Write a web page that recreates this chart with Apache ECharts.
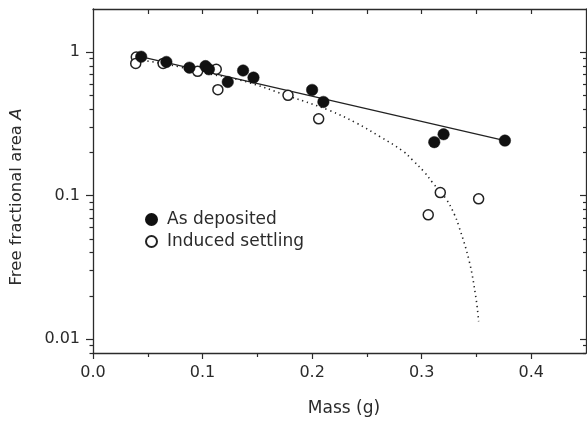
<!DOCTYPE html>
<html>
<head>
<meta charset="utf-8">
<script src="https://cdn.jsdelivr.net/npm/echarts@6/dist/echarts.min.js"></script>
<style>
html,body{margin:0;padding:0;background:#fff;}
#chart{width:587px;height:421px;}
</style>
</head>
<body>
<div id="chart"></div>
<script>
// ---- data ----
const asDeposited = [
  [0.044, 0.93], [0.067, 0.855], [0.088, 0.78], [0.1027, 0.80], [0.1058, 0.76],
  [0.123, 0.62], [0.137, 0.745], [0.1465, 0.665], [0.200, 0.546], [0.2103, 0.45],
  [0.3115, 0.236], [0.320, 0.268], [0.376, 0.242]
];
const inducedSettling = [
  [0.0395, 0.925], [0.039, 0.835], [0.064, 0.835], [0.0955, 0.735], [0.1125, 0.76],
  [0.114, 0.548], [0.178, 0.50], [0.206, 0.343], [0.317, 0.105], [0.306, 0.0735],
  [0.352, 0.095]
];
const fitDeposited = [[0.0365, 0.958], [0.376, 0.242]];
const fitSettling = [
  [0.036, 0.90], [0.053, 0.86], [0.079, 0.79], [0.10, 0.72], [0.134, 0.64],
  [0.18, 0.49], [0.216, 0.392], [0.24, 0.322], [0.2615, 0.259], [0.2827, 0.205],
  [0.2917, 0.177], [0.3024, 0.146], [0.310, 0.123], [0.3222, 0.095], [0.3297, 0.0745],
  [0.334, 0.061], [0.3434, 0.035], [0.3495, 0.0195], [0.352, 0.0133]
];
const xRange = [0, 0.45];
const yRange = [0.008, 2];
const xMajorTicks = [0, 0.1, 0.2, 0.3, 0.4];
const xMinorTicks = [0.05, 0.15, 0.25, 0.35];
const xTopTicks = [0.05, 0.1, 0.15, 0.2, 0.25, 0.3, 0.35, 0.4];
const yMajorTicks = [0.01, 0.1, 1];
const yMinorTicks = [0.008, 0.009, 0.02, 0.03, 0.04, 0.05, 0.06, 0.07, 0.08, 0.09,
                     0.2, 0.3, 0.4, 0.5, 0.6, 0.7, 0.8, 0.9];
const seriesNames = ['As deposited', 'Induced settling'];
const xTitle = 'Mass (g)';

const FONT = 'DejaVu Sans';
const INK = '#2b2b2b';

const chart = echarts.init(document.getElementById('chart'), null, {renderer: 'canvas'});

const axisLine = {show: true, onZero: false, lineStyle: {color: INK, width: 1.3}};
const noLine = {show: false, onZero: false};
const gridRect = {left: 93, right: 1, top: 9, bottom: 68, containLabel: false};

function xAx(grid, pos, ticks, len, inside, labels, line) {
  return {
    gridIndex: grid, type: 'value', position: pos, min: xRange[0], max: xRange[1], interval: 0.05,
    axisLine: line ? axisLine : noLine,
    axisTick: ticks ? {show: true, inside: inside, length: len, customValues: ticks,
                       lineStyle: {color: INK, width: 1.2}}
                    : {show: false},
    axisLabel: labels
      ? {show: true, margin: 12, fontFamily: FONT, fontSize: 16, color: INK,
         customValues: ticks, formatter: v => (+v).toFixed(1)}
      : {show: false},
    splitLine: {show: false}
  };
}
function yAx(grid, pos, ticks, len, inside, labels, line) {
  return {
    gridIndex: grid, type: 'log', logBase: 10, position: pos, min: yRange[0], max: yRange[1],
    axisLine: line ? axisLine : noLine,
    axisTick: {show: true, inside: inside, length: len, customValues: ticks,
               lineStyle: {color: INK, width: 1.2}},
    axisLabel: labels
      ? {show: true, margin: 13, fontFamily: FONT, fontSize: 16, color: INK,
         customValues: ticks, formatter: v => String(+(+v).toPrecision(6))}
      : {show: false},
    splitLine: {show: false}, minorTick: {show: false}
  };
}

const option = {
  backgroundColor: '#fff',
  animation: false,
  grid: [Object.assign({}, gridRect), Object.assign({}, gridRect)],
  legend: {
    orient: 'vertical', left: 145, top: 211, padding: 0,
    itemWidth: 11, itemHeight: 11, itemGap: 5,
    data: seriesNames,
    textStyle: {fontFamily: FONT, fontSize: 17, color: INK, lineHeight: 17, padding: [0, 0, 0, 5]}
  },
  xAxis: [
    xAx(0, 'bottom', xMajorTicks, 6, false, true, true),
    xAx(0, 'top', xTopTicks, 5, true, false, true),
    xAx(1, 'bottom', xMinorTicks, 4, false, false, false),
    xAx(1, 'top', null, 0, true, false, false)
  ],
  yAxis: [
    yAx(0, 'left', yMajorTicks, 7, false, true, true),
    yAx(0, 'right', yMajorTicks, 6, true, false, true),
    yAx(1, 'left', yMinorTicks, 3.5, false, false, false),
    yAx(1, 'right', yMinorTicks, 3, true, false, false)
  ],
  graphic: [
    {
      type: 'text', x: 17, y: 197, rotation: Math.PI / 2,
      style: {
        text: 'Free fractional area {i|A}',
        fontFamily: FONT, fontSize: 16.5, fill: INK,
        align: 'center', verticalAlign: 'middle',
        rich: {i: {fontFamily: FONT, fontSize: 16.5, fontStyle: 'italic', fill: INK}}
      }
    },
    {
      type: 'text', x: 344, y: 409,
      style: {text: xTitle, fontFamily: FONT, fontSize: 17, fill: INK,
              align: 'center', verticalAlign: 'middle'}
    }
  ],
  series: [
    {
      name: 'fitSettling', type: 'line', xAxisIndex: 0, yAxisIndex: 0,
      data: fitSettling, showSymbol: false, smooth: 0.4, silent: true, z: 2,
      lineStyle: {color: '#222', width: 1.6, type: [1.3, 3.7]}
    },
    {
      name: 'fitDeposited', type: 'line', xAxisIndex: 0, yAxisIndex: 0,
      data: fitDeposited, showSymbol: false, silent: true, z: 2,
      lineStyle: {color: '#222', width: 1.2, type: 'solid'}
    },
    {
      name: seriesNames[1], type: 'scatter', xAxisIndex: 0, yAxisIndex: 0,
      data: inducedSettling, symbol: 'circle', symbolSize: 10, z: 3,
      itemStyle: {color: '#fff', borderColor: '#222', borderWidth: 1.5, opacity: 1}
    },
    {
      name: seriesNames[0], type: 'scatter', xAxisIndex: 0, yAxisIndex: 0,
      data: asDeposited, symbol: 'circle', symbolSize: 11.5, z: 4,
      itemStyle: {color: '#111', borderColor: '#111', borderWidth: 0.5, opacity: 1}
    }
  ]
};
chart.setOption(option);
</script>
</body>
</html>
